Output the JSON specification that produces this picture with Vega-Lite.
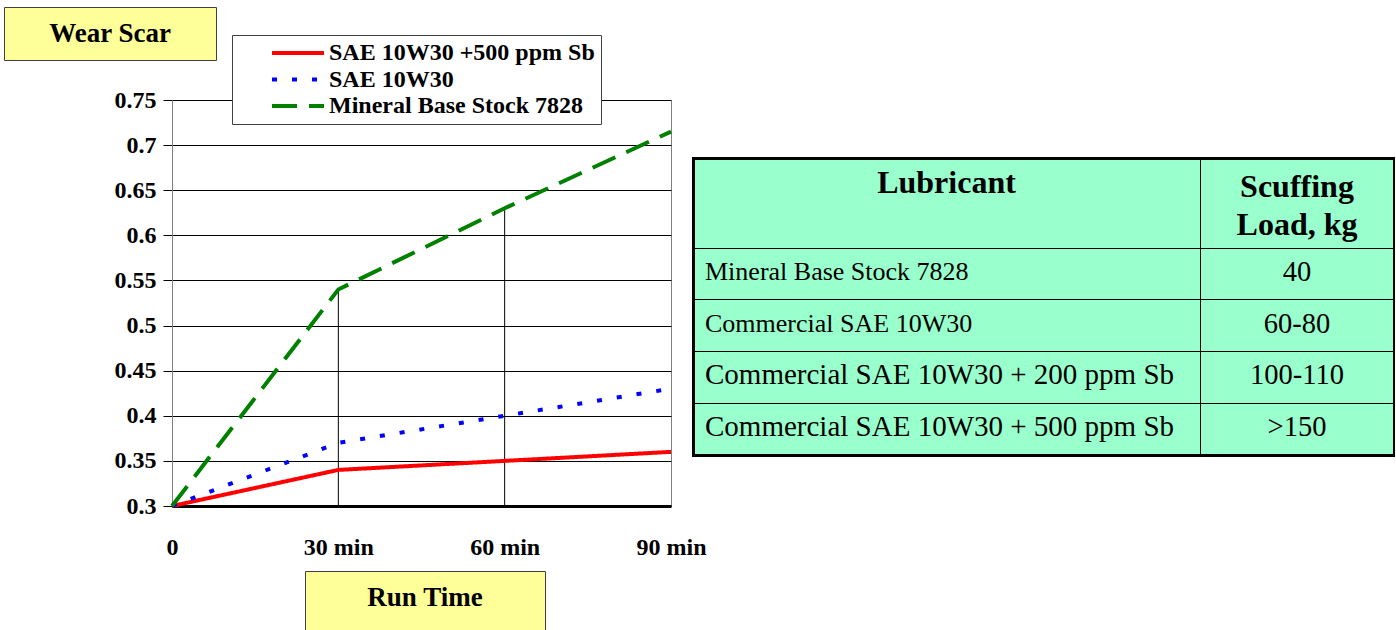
{
  "$schema": "https://vega.github.io/schema/vega-lite/v6.json",
  "padding": 0,
  "background": "#FFFFFF",
  "config": {
    "font": "Liberation Serif",
    "view": {"stroke": null},
    "axis": {"labelFont": "Liberation Serif", "titleFont": "Liberation Serif"}
  },
  "datasets": {
    "wear": [
      {"time": "0", "series": "SAE 10W30 +500 ppm Sb", "value": 0.30},
      {"time": "30 min", "series": "SAE 10W30 +500 ppm Sb", "value": 0.34},
      {"time": "60 min", "series": "SAE 10W30 +500 ppm Sb", "value": 0.35},
      {"time": "90 min", "series": "SAE 10W30 +500 ppm Sb", "value": 0.36},
      {"time": "0", "series": "SAE 10W30", "value": 0.30},
      {"time": "30 min", "series": "SAE 10W30", "value": 0.37},
      {"time": "60 min", "series": "SAE 10W30", "value": 0.40},
      {"time": "90 min", "series": "SAE 10W30", "value": 0.43},
      {"time": "0", "series": "Mineral Base Stock 7828", "value": 0.30},
      {"time": "30 min", "series": "Mineral Base Stock 7828", "value": 0.54},
      {"time": "60 min", "series": "Mineral Base Stock 7828", "value": 0.63},
      {"time": "90 min", "series": "Mineral Base Stock 7828", "value": 0.715}
    ],
    "table": [
      {"Lubricant": "Mineral Base Stock 7828", "Load": "40"},
      {"Lubricant": "Commercial SAE 10W30", "Load": "60-80"},
      {"Lubricant": "Commercial SAE 10W30 + 200 ppm Sb", "Load": "100-110"},
      {"Lubricant": "Commercial SAE 10W30 + 500 ppm Sb", "Load": ">150"}
    ]
  },
  "bounds": "flush",
  "spacing": 0,
  "vconcat": [
    {"width": 1, "height": 7, "data": {"values": []}, "mark": "point", "encoding": {}},
    {
      "bounds": "flush",
      "spacing": 0,
      "hconcat": [
        {"width": 4, "height": 1, "data": {"values": []}, "mark": "point", "encoding": {}},
        {
          "width": 212, "height": 53,
          "view": {"fill": "#FFFF99", "stroke": "#404040", "strokeWidth": 1},
          "data": {"values": [{"label": "Wear Scar"}]},
          "mark": {"type": "text", "font": "Liberation Serif", "fontWeight": "bold", "fontSize": 27, "color": "#000000", "baseline": "middle", "align": "center"},
          "encoding": {"text": {"field": "label"}}
        }
      ]
    },
    {"width": 1, "height": 93, "data": {"values": []}, "mark": "point", "encoding": {}},
    {
      "bounds": "flush",
      "spacing": 0,
      "hconcat": [
        {"width": 172, "height": 1, "data": {"values": []}, "mark": "point", "encoding": {}},
        {
          "width": 499, "height": 406,
          "view": {"stroke": "#808080", "strokeWidth": 1},
          "data": {"name": "wear"},
          "encoding": {
            "x": {
              "field": "time", "type": "ordinal", "title": null,
              "scale": {"type": "point", "padding": 0, "domain": ["0", "30 min", "60 min", "90 min"]},
              "axis": {"labelAngle": 0, "labelFont": "Liberation Serif", "labelFontWeight": "bold", "labelFontSize": 24, "labelColor": "#000000", "labelPadding": 29, "ticks": false, "domainColor": "#000000", "domainWidth": 3, "grid": false, "labelOverlap": false}
            },
            "y": {
              "field": "value", "type": "quantitative", "title": null,
              "scale": {"domain": [0.3, 0.75], "zero": false, "nice": false},
              "axis": {"values": [0.3, 0.35, 0.4, 0.45, 0.5, 0.55, 0.6, 0.65, 0.7, 0.75], "labelExpr": "toString(datum.value)", "labelFont": "Liberation Serif", "labelFontWeight": "bold", "labelFontSize": 24, "labelColor": "#000000", "labelPadding": 7, "tickSize": 9, "tickColor": "#000000", "domainColor": "#808080", "grid": true, "gridColor": "#000000", "gridOpacity": 1, "gridWidth": 1}
            }
          },
          "layer": [
            {
              "transform": [
                {"filter": "datum.time == '30 min' || datum.time == '60 min'"},
                {"aggregate": [{"op": "max", "field": "value", "as": "value"}], "groupby": ["time"]}
              ],
              "mark": {"type": "rule", "color": "#000000", "strokeWidth": 1},
              "encoding": {"y2": {"datum": 0.3}}
            },
            {
              "mark": {"type": "line", "strokeWidth": 4, "strokeCap": "butt"},
              "encoding": {
                "color": {
                  "field": "series", "type": "nominal",
                  "scale": {"domain": ["SAE 10W30 +500 ppm Sb", "SAE 10W30", "Mineral Base Stock 7828"], "range": ["#FF0000", "#0000FF", "#008000"]},
                  "legend": {"title": null, "orient": "none", "legendX": 232, "legendY": 35, "fillColor": "#FFFFFF", "strokeColor": "#404040", "padding": 6, "symbolType": "stroke", "symbolSize": 2704, "symbolStrokeWidth": 4, "symbolOffset": 32, "labelOffset": 3, "labelFont": "Liberation Serif", "labelFontWeight": "bold", "labelFontSize": 24, "labelColor": "#000000", "rowPadding": 2.5, "clipHeight": 24, "labelLimit": 500}
                },
                "strokeDash": {
                  "field": "series", "type": "nominal",
                  "scale": {"domain": ["SAE 10W30 +500 ppm Sb", "SAE 10W30", "Mineral Base Stock 7828"], "range": [[1, 0], [5, 15], [25, 12]]},
                  "legend": {"title": null, "orient": "none", "legendX": 232, "legendY": 35, "fillColor": "#FFFFFF", "strokeColor": "#404040", "padding": 6, "symbolType": "stroke", "symbolSize": 2704, "symbolStrokeWidth": 4, "symbolOffset": 32, "labelOffset": 3, "labelFont": "Liberation Serif", "labelFontWeight": "bold", "labelFontSize": 24, "labelColor": "#000000", "rowPadding": 2.5, "clipHeight": 24, "labelLimit": 500}
                }
              }
            }
          ]
        }
      ]
    },
    {"width": 1, "height": 58, "data": {"values": []}, "mark": "point", "encoding": {}},
    {
      "bounds": "flush",
      "spacing": 0,
      "hconcat": [
        {"width": 693, "height": 1, "data": {"values": []}, "mark": "point", "encoding": {}},
        {
          "width": 507, "height": 90,
          "view": {"fill": "#99FFCC", "stroke": "#000000", "strokeWidth": 1},
          "data": {"values": [{"h": "Lubricant"}]},
          "mark": {"type": "text", "font": "Liberation Serif", "fontWeight": "bold", "fontSize": 32, "baseline": "middle", "dy": -20, "color": "#000000"},
          "encoding": {
            "text": {"field": "h"},
            "x": {"field": "h", "type": "nominal", "title": null, "scale": {"type": "band", "paddingInner": 0, "paddingOuter": 0}, "axis": {"orient": "top", "labels": false, "ticks": false, "domainColor": "#000000", "domainWidth": 3, "domainCap": "square"}},
            "y": {"field": "h", "type": "nominal", "title": null, "scale": {"type": "band", "paddingInner": 0, "paddingOuter": 0}, "axis": {"orient": "left", "labels": false, "ticks": false, "domainColor": "#000000", "domainWidth": 3, "domainCap": "square"}}
          }
        },
        {
          "width": 194, "height": 90,
          "view": {"fill": "#99FFCC", "stroke": "#000000", "strokeWidth": 1},
          "data": {"values": [{"h": "Scuffing\nLoad, kg"}]},
          "mark": {"type": "text", "font": "Liberation Serif", "fontWeight": "bold", "fontSize": 32, "baseline": "middle", "dy": -16, "lineBreak": "\n", "lineHeight": 38, "color": "#000000"},
          "encoding": {
            "text": {"field": "h"},
            "x": {"field": "h", "type": "nominal", "title": null, "scale": {"type": "band", "paddingInner": 0, "paddingOuter": 0}, "axis": {"orient": "top", "labels": false, "ticks": false, "domainColor": "#000000", "domainWidth": 3, "domainCap": "square"}},
            "y": {"field": "h", "type": "nominal", "title": null, "scale": {"type": "band", "paddingInner": 0, "paddingOuter": 0}, "axis": {"orient": "right", "labels": false, "ticks": false, "domainColor": "#000000", "domainWidth": 3, "domainCap": "square"}}
          }
        }
      ]
    },
    {"width": 1, "height": 90, "data": {"values": []}, "mark": "point", "encoding": {}},
    {
      "bounds": "flush",
      "spacing": 0,
      "hconcat": [
        {"width": 693, "height": 1, "data": {"values": []}, "mark": "point", "encoding": {}},
        {
          "width": 507, "height": 207,
          "view": {"fill": "#99FFCC", "stroke": "#000000", "strokeWidth": 1},
          "data": {"name": "table"},
          "mark": {"type": "text", "font": "Liberation Serif", "align": "left", "dx": 12, "dy": -2, "baseline": "middle", "color": "#000000"},
          "encoding": {
            "text": {"field": "Lubricant"},
            "size": {"condition": {"test": "indexof(datum.Lubricant, '+') >= 0", "value": 29}, "value": 26},
            "y": {"field": "Lubricant", "type": "nominal", "sort": null, "title": null, "scale": {"type": "band", "paddingInner": 0, "paddingOuter": 0}, "axis": {"orient": "left", "labels": false, "ticks": false, "domainColor": "#000000", "domainWidth": 3, "domainCap": "square", "grid": true, "gridColor": "#000000", "gridOpacity": 1, "gridWidth": 1, "bandPosition": 0}},
            "x": {"datum": "Lubricant", "type": "nominal", "bandPosition": 0, "title": null, "scale": {"type": "band", "paddingInner": 0, "paddingOuter": 0}, "axis": {"orient": "bottom", "labels": false, "ticks": false, "domainColor": "#000000", "domainWidth": 3, "domainCap": "square"}}
          }
        },
        {
          "width": 194, "height": 207,
          "view": {"fill": "#99FFCC", "stroke": "#000000", "strokeWidth": 1},
          "data": {"name": "table"},
          "mark": {"type": "text", "font": "Liberation Serif", "fontSize": 28.5, "align": "center", "dy": -2, "baseline": "middle", "color": "#000000"},
          "encoding": {
            "text": {"field": "Load"},
            "y": {"field": "Lubricant", "type": "nominal", "sort": null, "title": null, "scale": {"type": "band", "paddingInner": 0, "paddingOuter": 0}, "axis": {"orient": "right", "labels": false, "ticks": false, "domainColor": "#000000", "domainWidth": 3, "domainCap": "square", "grid": true, "gridColor": "#000000", "gridOpacity": 1, "gridWidth": 1, "bandPosition": 0}},
            "x": {"datum": "Load", "type": "nominal", "title": null, "scale": {"type": "band", "paddingInner": 0, "paddingOuter": 0}, "axis": {"orient": "bottom", "labels": false, "ticks": false, "domainColor": "#000000", "domainWidth": 3, "domainCap": "square"}}
          }
        }
      ]
    },
    {"width": 1, "height": 323, "data": {"values": []}, "mark": "point", "encoding": {}},
    {
      "bounds": "flush",
      "spacing": 0,
      "hconcat": [
        {"width": 305, "height": 1, "data": {"values": []}, "mark": "point", "encoding": {}},
        {
          "width": 240, "height": 60,
          "view": {"fill": "#FFFF99", "stroke": "#404040", "strokeWidth": 1},
          "data": {"values": [{"label": "Run Time"}]},
          "mark": {"type": "text", "font": "Liberation Serif", "fontWeight": "bold", "fontSize": 27, "color": "#000000", "baseline": "middle", "align": "center", "dy": -3},
          "encoding": {"text": {"field": "label"}}
        }
      ]
    }
  ]
}
